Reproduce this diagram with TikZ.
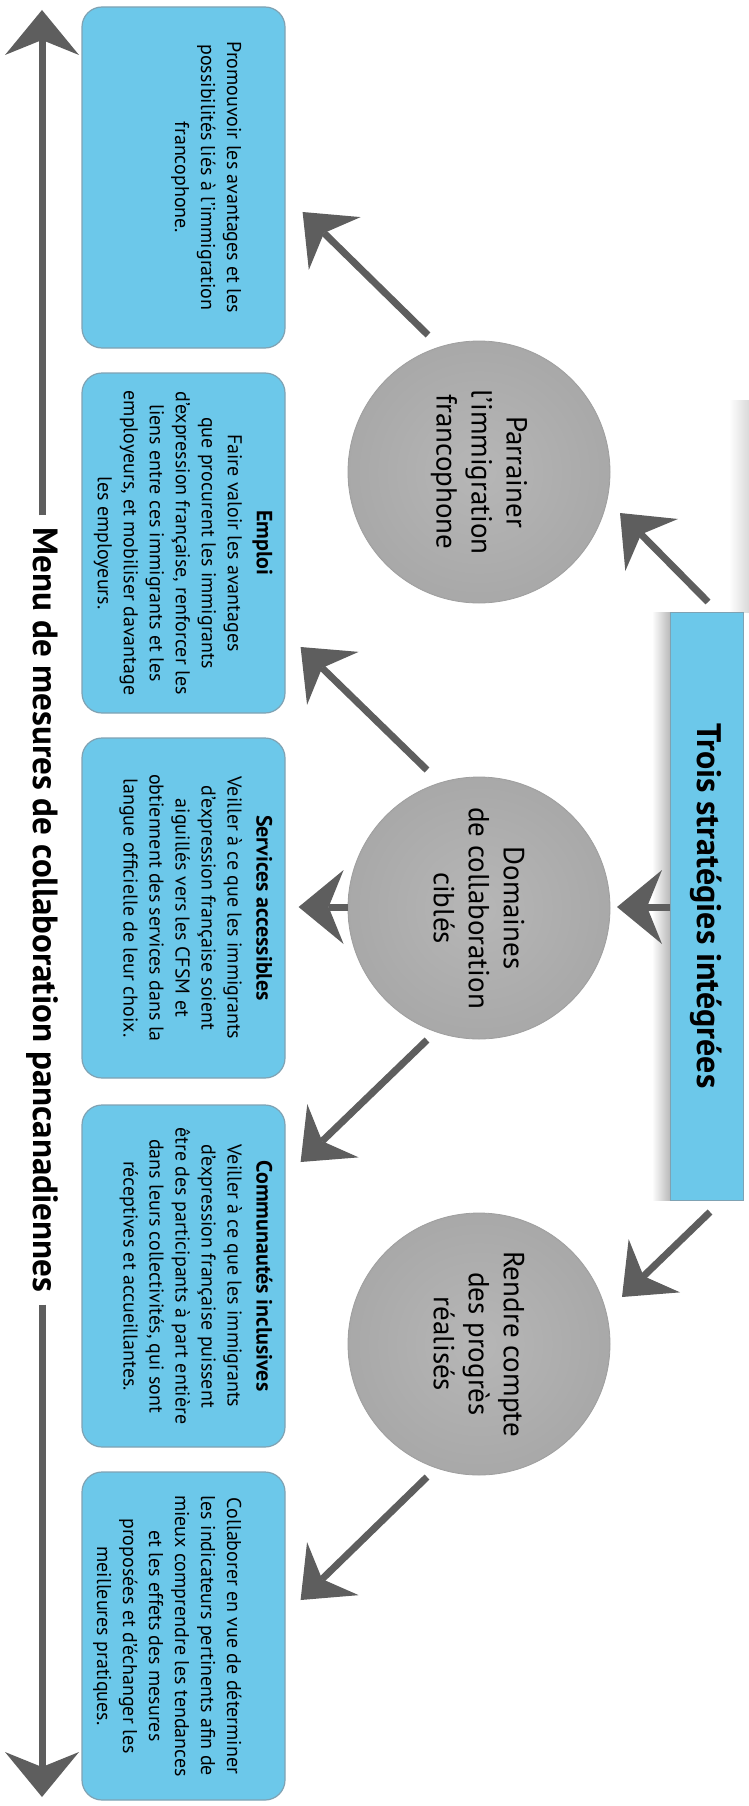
\documentclass[tikz,border=0pt]{standalone}
\usepackage{fontspec}
\setmainfont{PT Sans}
\usetikzlibrary{arrows.meta,calc}
\definecolor{boxblue}{HTML}{6CC8EA}
\definecolor{boxedge}{HTML}{7FA2B3}
\definecolor{arrgray}{HTML}{5E5E5E}
\begin{document}
\begin{tikzpicture}[x=1pt,y=-1pt,
  box/.style={draw=boxedge,line width=1.2pt,fill=boxblue,rounded corners=20pt,minimum width=203pt,inner sep=0pt},
  btext/.style={rotate=-90,anchor=north,align=center,inner sep=0pt,font=\fontsize{20}{26}\selectfont},
  bhead/.style={font=\bfseries\fontsize{22}{26}\selectfont},
  bub/.style={circle,minimum size=262pt,inner sep=0pt,draw=gray!75,line width=0.8pt,inner color=gray!57,outer color=gray!68,rotate=-90,align=center,font=\fontsize{29}{35}\selectfont},
  arr/.style={draw=arrgray,line width=7pt,-{Stealth[length=45pt,width=74pt,inset=15pt,line width=0pt]}},
]
\useasboundingbox (0,0) rectangle (749,1806);

% shadows of the title box
\shade[left color=white,right color=gray!30] (729,400) rectangle (749,612);
\shade[left color=white,right color=gray!55] (652,612) rectangle (670,1200);

% title
\node[draw=boxedge,line width=1pt,fill=boxblue,minimum width=588pt,minimum height=73pt,rotate=-90,inner sep=0pt,font=\bfseries\fontsize{34}{40}\selectfont] (T) at (706.5,906) {Trois stratégies intégrées};

% boxes
\node[box,minimum height=341pt] (b1) at (183.5,177.5) {};
\node[box,minimum height=340pt] (b2) at (183.5,543) {};
\node[box,minimum height=340pt] (b3) at (183.5,908) {};
\node[box,minimum height=342pt] (b4) at (183.5,1276) {};
\node[box,minimum height=328pt] (b5) at (183.5,1636) {};

\node[btext] (t1) at ($(b1.east)+(-44,0)$) {Promouvoir les avantages et les\\possibilités liés à l’immigration\\francophone.};
\node[btext] (t2) at ($(b2.east)+(-13,0)$) {{\bfseries\fontsize{22}{26}\selectfont Emploi}\\[3pt]Faire valoir les avantages\\que procurent les immigrants\\d’expression française, renforcer les\\liens entre ces immigrants et les\\employeurs, et mobiliser davantage\\les employeurs.};
\node[btext] (t3) at ($(b3.east)+(-13,0)$) {{\bfseries\fontsize{22}{26}\selectfont Services accessibles}\\[3pt]Veiller à ce que les immigrants\\d’expression française soient\\aiguillés vers les CFSM et\\obtiennent des services dans la\\langue officielle de leur choix.};
\node[btext] (t4) at ($(b4.east)+(-13,0)$) {{\bfseries\fontsize{22}{26}\selectfont Communautés inclusives}\\[3pt]Veiller à ce que les immigrants\\d’expression française puissent\\être des participants à part entière\\dans leurs collectivités, qui sont\\réceptives et accueillantes.};
\node[btext] (t5) at ($(b5.east)+(-44,0)$) {Collaborer en vue de déterminer\\les indicateurs pertinents afin de\\mieux comprendre les tendances\\et les effets des mesures\\proposées et d’échanger les\\meilleures pratiques.};

% circles
\node[bub] (c1) at (479,472) {Parrainer\\l’immigration\\francophone};
\node[bub] (c2) at (479,908) {Domaines\\de collaboration\\ciblés};
\node[bub] (c3) at (479,1344) {Rendre compte\\des progrès\\réalisés};

% menu axis
\coordinate (top) at (42,10);
\coordinate (bot) at (42,1797);
\node[rotate=-90,inner xsep=12pt,inner ysep=0pt,font=\bfseries\fontsize{35}{40}\selectfont] (menu) at (42,910) {Menu de mesures de collaboration pancanadiennes};
\draw[arr] (menu.west) -- (top);
\draw[arr] (menu.east) -- (bot);

% arrows
\draw[arr] ($(T)+(1.5,-304)$) -- ($(c1)+(141,41)$);
\draw[arr] ($(T)+(-36.5,1)$) -- ($(c2)+(138,-1)$);
\draw[arr] ($(T)+(3.5,306)$) -- ($(c3)+(143,-47)$);
\draw[arr] ($(c1)+(-51,-137)$) -- ($(b1.east)+(17,34.5)$);
\draw[arr] ($(c2)+(-52,-138)$) -- ($(b2.east)+(15,104)$);
\draw[arr] ($(c2)+(-131,-1)$) -- ($(b3.east)+(13,-1)$);
\draw[arr] ($(c2)+(-52,132)$) -- ($(b4.east)+(15,-114)$);
\draw[arr] ($(c3)+(-52,133)$) -- ($(b5.east)+(15,-36)$);
\end{tikzpicture}
\end{document}
